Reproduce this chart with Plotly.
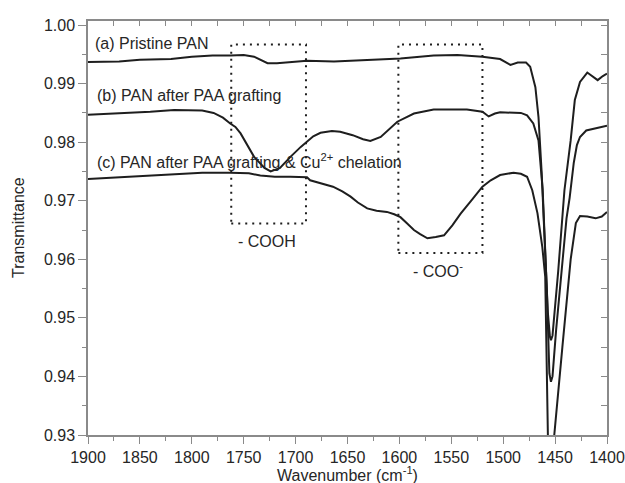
import plotly.graph_objects as go

# ---- data ----
wn_a = [1900, 1870, 1850, 1820, 1800, 1780, 1763, 1750, 1740, 1733, 1727, 1718, 1711, 1689, 1663,
        1631, 1599, 1567, 1544, 1520, 1503, 1493, 1486, 1478, 1474, 1469, 1466, 1463, 1460, 1457,
        1455, 1454, 1452.5, 1450, 1447, 1441, 1435, 1431, 1426, 1419, 1414, 1409, 1404, 1400]
tr_a = [0.9937, 0.9938, 0.9941, 0.9942, 0.9946, 0.9948, 0.9948, 0.9949, 0.9946, 0.9940, 0.9935,
        0.9935, 0.9936, 0.9939, 0.9938, 0.9941, 0.9943, 0.9948, 0.9949, 0.9946, 0.9942, 0.9932,
        0.9936, 0.9936, 0.9929, 0.9894, 0.9843, 0.9750, 0.9620, 0.9510, 0.9468, 0.9462, 0.9470,
        0.9520, 0.9580, 0.9718, 0.9803, 0.9872, 0.9903, 0.9919, 0.9912, 0.9906, 0.9913, 0.9917]

wn_b = [1900, 1870, 1840, 1817, 1800, 1790, 1779, 1770, 1763, 1758, 1753, 1747, 1740, 1730, 1724,
        1715, 1705, 1695, 1683, 1676, 1665, 1657, 1645, 1635, 1628, 1618, 1610, 1602, 1586, 1567,
        1535, 1520, 1514, 1508, 1503, 1483, 1477, 1471, 1466, 1462, 1458, 1455.5, 1454, 1452.5,
        1449, 1444, 1439, 1436, 1432, 1429, 1426, 1420, 1413, 1400]
tr_b = [0.9847, 0.9849, 0.9852, 0.9855, 0.9855, 0.9854, 0.9850, 0.9842, 0.9832, 0.9826, 0.9815, 0.9797,
        0.9775, 0.9756, 0.9750, 0.9756, 0.9775, 0.9792, 0.9810, 0.9816, 0.9819, 0.9818, 0.9812, 0.9805,
        0.9802, 0.9809, 0.9822, 0.9835, 0.9849, 0.9856, 0.9856, 0.9852, 0.9844, 0.9849, 0.9851, 0.9850,
        0.9846, 0.9832, 0.9803, 0.9720, 0.9550, 0.9405, 0.9391, 0.9400, 0.9480, 0.9582, 0.9670, 0.9705,
        0.9765, 0.9795, 0.9809, 0.9820, 0.9823, 0.9828]

wn_c = [1900, 1870, 1840, 1811, 1790, 1763, 1745, 1734, 1720, 1705, 1689, 1686, 1675, 1664, 1655,
        1647, 1640, 1631, 1622, 1612, 1605, 1599, 1593, 1586, 1580, 1573, 1565, 1557, 1549, 1541,
        1530, 1520, 1512, 1503, 1490, 1483, 1477, 1472, 1467, 1462.3, 1459.5, 1457.7, 1456, 1454,
        1450.8, 1443, 1437, 1435, 1430, 1426, 1419, 1411, 1405, 1400]
tr_c = [0.9737, 0.9740, 0.9744, 0.9747, 0.9748, 0.9748, 0.9747, 0.9743, 0.9741, 0.9741, 0.9740, 0.9735,
        0.9730, 0.9724, 0.9716, 0.9707, 0.9697, 0.9687, 0.9683, 0.9681, 0.9677, 0.9672, 0.9662, 0.9650,
        0.9643, 0.9636, 0.9638, 0.9641, 0.9658, 0.9678, 0.9702, 0.9724, 0.9735, 0.9744, 0.9748, 0.9746,
        0.9741, 0.9718, 0.9679, 0.9621, 0.9570, 0.9300, 0.9200, 0.9220, 0.9300, 0.9450, 0.9570, 0.9600,
        0.9662, 0.9674, 0.9673, 0.9670, 0.9673, 0.9681]

labels = ["(a) Pristine PAN", "(b) PAN after PAA grafting",
          "(c) PAN after PAA grafting &amp; Cu<sup>2+</sup> chelation"]
label_x = [1895, 1893, 1893]
label_y = [0.9969, 0.9880, 0.9768]

boxes = [(1762, 1690, 0.9661, 0.9967), (1601, 1520, 0.9611, 0.9967)]
box_labels = ["- COOH", "- COO<sup>-</sup>"]
box_label_x = [1728, 1563]
box_label_y = [0.9630, 0.9582]

x_title = "Wavenumber (cm<sup>-1</sup>)"
y_title = "Transmittance"

x_range = [1900, 1400]
y_range = [0.93, 1.0007]

line_col = "#1e1e1e"
axis_col = "#8a8a8a"
text_col = "#262626"
font = "Liberation Sans, Arial, sans-serif"

fig = go.Figure()
for wn, tr in [(wn_a, tr_a), (wn_b, tr_b), (wn_c, tr_c)]:
    fig.add_trace(go.Scatter(x=wn, y=tr, mode="lines",
                             line=dict(color=line_col, width=2), showlegend=False,
                             hoverinfo="skip"))
# empty trace to anchor mirrored (inside-tick) axes
fig.add_trace(go.Scatter(x=[], y=[], xaxis="x2", yaxis="y2", showlegend=False))

for (x0, x1, y0, y1) in boxes:
    fig.add_shape(type="rect", x0=x0, x1=x1, y0=y0, y1=y1, xref="x", yref="y",
                  line=dict(color=line_col, width=2, dash="2px,5px"))

for t, x, y in zip(labels, label_x, label_y):
    fig.add_annotation(x=x, y=y, text=t, showarrow=False, xanchor="left", yanchor="middle",
                       font=dict(size=16, color=text_col, family=font))
for t, x, y in zip(box_labels, box_label_x, box_label_y):
    fig.add_annotation(x=x, y=y, text=t, showarrow=False, xanchor="center", yanchor="middle",
                       font=dict(size=16, color=text_col, family=font))

# axis titles as annotations (fixed pixel placement)
fig.add_annotation(x=0.5, y=0, xref="paper", yref="paper", text=x_title, showarrow=False,
                   xanchor="center", yanchor="middle", yshift=-39,
                   font=dict(size=16, color=text_col, family=font))
fig.add_annotation(x=0, y=0.5, xref="paper", yref="paper", text=y_title, showarrow=False,
                   xanchor="center", yanchor="middle", xshift=-70, textangle=-90,
                   font=dict(size=16, color=text_col, family=font))

fig.update_layout(
    width=625, height=483,
    margin=dict(l=88, r=18, t=21, b=48, autoexpand=False),
    plot_bgcolor="white", paper_bgcolor="white",
    font=dict(family=font, size=16, color=text_col),
    xaxis=dict(range=x_range, dtick=50, tick0=1400, ticks="outside", ticklen=7, tickwidth=1,
               tickcolor=axis_col, showline=True, linecolor=axis_col, linewidth=1.5,
               showgrid=False, zeroline=False, automargin=False,
               minor=dict(dtick=25, tick0=1400, ticks="outside", ticklen=4, tickcolor=axis_col),
               tickfont=dict(size=16, color=text_col)),
    yaxis=dict(range=y_range, dtick=0.01, tick0=0.93, tickformat=".2f", ticks="outside",
               ticklen=8, tickwidth=1, tickcolor=axis_col, showline=True, linecolor=axis_col,
               linewidth=1.5, showgrid=False, zeroline=False, automargin=False,
               minor=dict(dtick=0.005, tick0=0.93, ticks="outside", ticklen=4, tickcolor=axis_col),
               tickfont=dict(size=16, color=text_col)),
    xaxis2=dict(range=x_range, overlaying="x", side="top", dtick=50, tick0=1400, ticks="inside",
                ticklen=5, tickcolor=axis_col, showticklabels=False, showline=True,
                linecolor=axis_col, linewidth=1.5, showgrid=False, zeroline=False,
                automargin=False,
                minor=dict(dtick=25, tick0=1400, ticks="inside", ticklen=5, tickcolor=axis_col)),
    yaxis2=dict(range=y_range, overlaying="y", side="right", dtick=0.01, tick0=0.93,
                ticks="inside", ticklen=6, tickcolor=axis_col, showticklabels=False,
                showline=True, linecolor=axis_col, linewidth=1.5, showgrid=False, zeroline=False,
                automargin=False,
                minor=dict(dtick=0.005, tick0=0.93, ticks="inside", ticklen=6, tickcolor=axis_col)),
)

fig.write_html("out.html", config={"displayModeBar": False},
               post_script="document.body.style.margin='0';document.body.style.overflow='hidden';")
